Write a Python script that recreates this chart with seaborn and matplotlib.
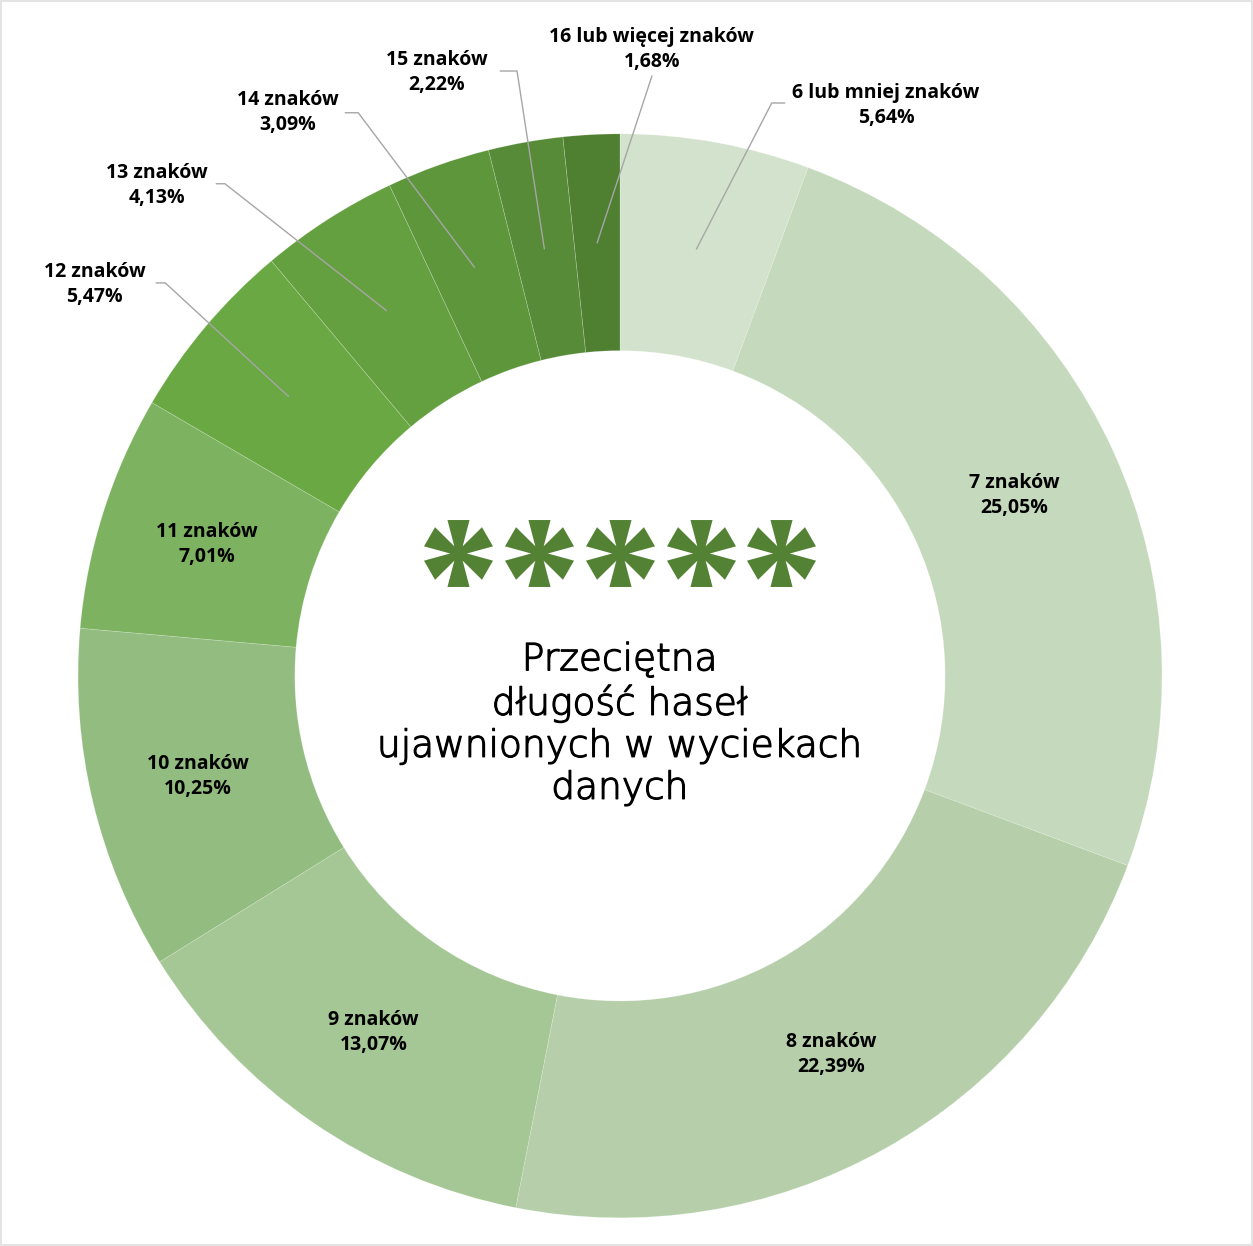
import numpy as np
import matplotlib.pyplot as plt
import matplotlib.patheffects as pe
from matplotlib.path import Path
import seaborn as sns

sns.set_theme(style="white")
plt.rcParams['font.family'] = ['Open Sans', 'DejaVu Sans']

# dane: udział długości haseł (%)
categories = ["6 lub mniej znaków", "7 znaków", "8 znaków", "9 znaków", "10 znaków",
              "11 znaków", "12 znaków", "13 znaków", "14 znaków", "15 znaków",
              "16 lub więcej znaków"]
shares = [5.64, 25.05, 22.39, 13.07, 10.25, 7.01, 5.47, 4.13, 3.09, 2.22, 1.68]
colors = ["#d3e2cc", "#c5d9bc", "#b6cfaa", "#a5c695", "#93bc80", "#7db360",
          "#6aa843", "#65a040", "#5e963c", "#578b37", "#4f7f31"]
center_title = "Przeciętna\ndługość haseł\nujawnionych w wyciekach\ndanych"

# etykiety poza pierścieniem: pozycja tekstu, punkty linii odniesienia
outside = {
    0: ((0.491, 1.052), [(0.280, 1.057), (0.304, 1.057)]),
    10: ((0.059, 1.156), [(0.059, 1.107)]),
    9: ((-0.338, 1.113), [(-0.190, 1.116), (-0.221, 1.116)]),
    8: ((-0.613, 1.039), [(-0.483, 1.039), (-0.507, 1.039)]),
    7: ((-0.854, 0.905), [(-0.729, 0.908), (-0.745, 0.908)]),
    6: ((-0.969, 0.722), [(-0.839, 0.725), (-0.856, 0.725)]),
}

fig = plt.figure(figsize=(12.53, 12.46), dpi=100)
ax = fig.add_axes([0, 0, 1, 1])

wedges, _ = ax.pie(shares, colors=colors, startangle=90, counterclock=False,
                   radius=1.0, wedgeprops=dict(width=0.4, edgecolor='#ffffff40', linewidth=0.5))
ax.set_xlim(-1.144, 1.168)
ax.set_ylim(-1.052, 1.247)
ax.set_aspect('equal')
ax.axis('off')

label_r = 0.8
for i, w in enumerate(wedges):
    mid = np.deg2rad((w.theta1 + w.theta2) / 2)
    ax_x, ax_y = label_r * np.cos(mid), label_r * np.sin(mid)
    txt = f"{categories[i]}\n{shares[i]:.2f}%".replace('.', ',')
    if i in outside:
        pos, pts = outside[i]
        xs = [ax_x] + [p[0] for p in pts]
        ys = [ax_y] + [p[1] for p in pts]
        ax.plot(xs, ys, color='#a6a6a6', lw=1)
        ax.text(pos[0], pos[1], txt, ha='center', va='center', fontsize=14,
                fontweight='bold', color='black', linespacing=1.3)
    else:
        ax.text(ax_x, ax_y, txt, ha='center', va='center', fontsize=14,
                fontweight='bold', color='black', linespacing=1.3)

# gwiazdki w środku
L, hw, r_in = 1.0, 0.33, 0.25
verts = []
for a in [30, 90, 150, 210, 270, 330]:
    t = np.deg2rad(a)
    u = np.array([np.cos(t), np.sin(t)])
    v = np.array([-np.sin(t), np.cos(t)])
    tin = np.deg2rad(a - 30)
    verts.append((r_in * np.cos(tin), r_in * np.sin(tin)))
    verts.append(tuple(L * u - hw * v))
    verts.append(tuple(L * u + hw * v))
verts.append(verts[0])
codes = [Path.MOVETO] + [Path.LINETO] * (len(verts) - 2) + [Path.CLOSEPOLY]
star = Path(verts, codes)
star_x = (np.arange(5) - 2) * 0.149
ax.scatter(star_x, np.full(5, 0.227), marker=star, s=2470, color='#548235', linewidths=0)

ax.text(0, -0.089, center_title, ha='center', va='center', fontsize=27,
        color='black', linespacing=1.25, family=['DejaVu Sans'], fontweight='light',
        path_effects=[pe.withStroke(linewidth=0.9, foreground='black')])

fig.patch.set_edgecolor('#e3e3e3')
fig.patch.set_linewidth(1.5)
fig.savefig('out.png', dpi=100, edgecolor=fig.get_edgecolor())
